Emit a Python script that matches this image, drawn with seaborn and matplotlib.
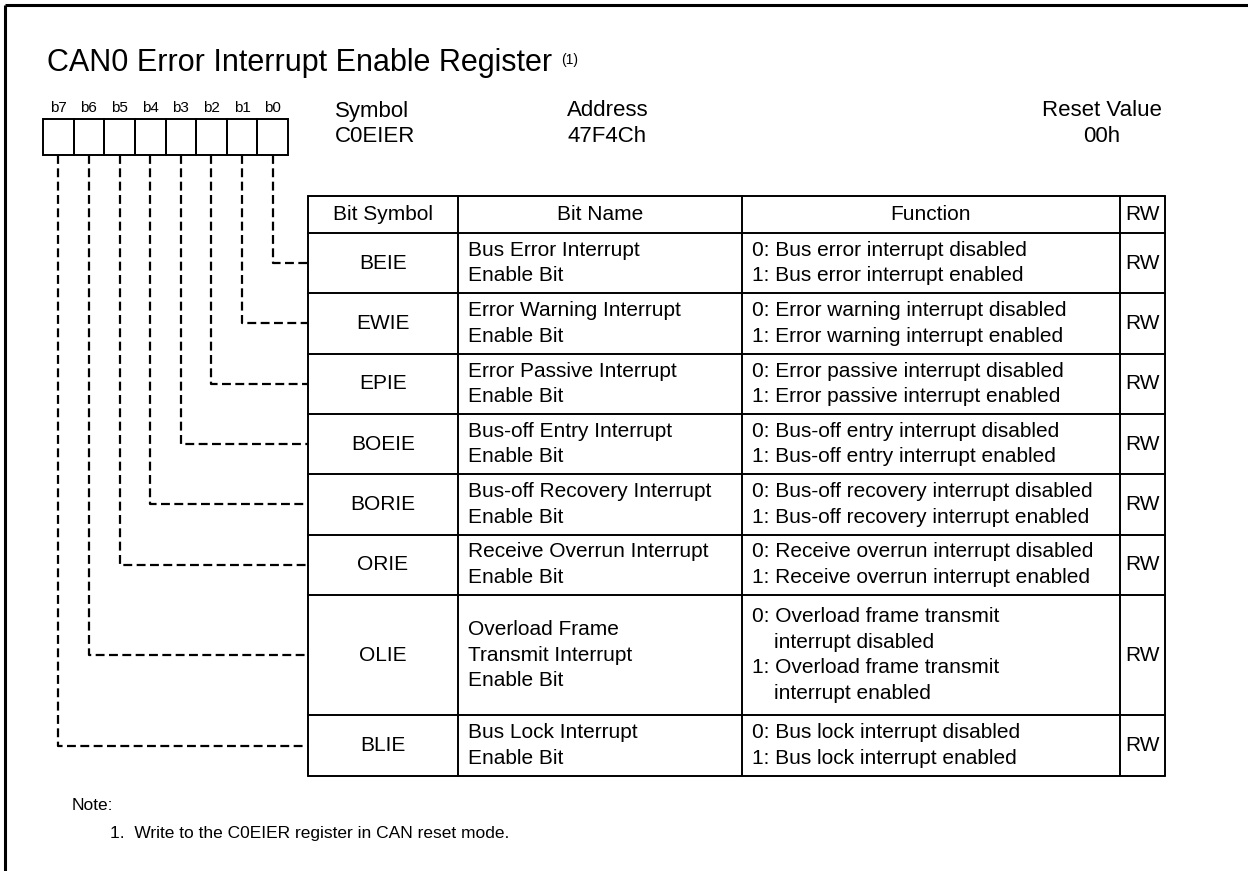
import matplotlib
matplotlib.use("Agg")
import matplotlib.pyplot as plt
import seaborn as sns

# register content
title = "CAN0 Error Interrupt Enable Register"
title_note = "(1)"
bit_labels = ["b7", "b6", "b5", "b4", "b3", "b2", "b1", "b0"]
header_cols = ["Bit Symbol", "Bit Name", "Function", "RW"]
reg_symbol = "C0EIER"
reg_address = "47F4Ch"
reg_reset = "00h"

bit_symbols = ["BEIE", "EWIE", "EPIE", "BOEIE", "BORIE", "ORIE", "OLIE", "BLIE"]
bit_names = [
    ["Bus Error Interrupt", "Enable Bit"],
    ["Error Warning Interrupt", "Enable Bit"],
    ["Error Passive Interrupt", "Enable Bit"],
    ["Bus-off Entry Interrupt", "Enable Bit"],
    ["Bus-off Recovery Interrupt", "Enable Bit"],
    ["Receive Overrun Interrupt", "Enable Bit"],
    ["Overload Frame", "Transmit Interrupt", "Enable Bit"],
    ["Bus Lock Interrupt", "Enable Bit"],
]
functions = [
    ["0: Bus error interrupt disabled", "1: Bus error interrupt enabled"],
    ["0: Error warning interrupt disabled", "1: Error warning interrupt enabled"],
    ["0: Error passive interrupt disabled", "1: Error passive interrupt enabled"],
    ["0: Bus-off entry interrupt disabled", "1: Bus-off entry interrupt enabled"],
    ["0: Bus-off recovery interrupt disabled", "1: Bus-off recovery interrupt enabled"],
    ["0: Receive overrun interrupt disabled", "1: Receive overrun interrupt enabled"],
    ["0: Overload frame transmit", "interrupt disabled",
     "1: Overload frame transmit", "interrupt enabled"],
    ["0: Bus lock interrupt disabled", "1: Bus lock interrupt enabled"],
]
rw_vals = ["RW"] * 8
# which bit each row connects to (b0 first)
row_bits = [0, 1, 2, 3, 4, 5, 6, 7]
notes = ["Note:", "1.  Write to the C0EIER register in CAN reset mode."]

sns.set_theme(style="white")
plt.rcParams["font.family"] = ["Liberation Sans", "DejaVu Sans"]
plt.rcParams["text.color"] = "black"

W, H = 1248, 871
fig = plt.figure(figsize=(W / 100, H / 100), dpi=100)
ax = fig.add_axes([0, 0, 1, 1])
ax.set_xlim(0, W)
ax.set_ylim(H, 0)
ax.axis("off")

FS = 15
LS = 25.5
lw_tab = 1.4
dash = (0, (4, 2))

# outer frame (top and left only)
ax.plot([5, W], [5, 5], color="black", lw=2.2, solid_capstyle="butt")
ax.plot([5, 5], [5, H], color="black", lw=2.2, solid_capstyle="butt")

# title
t = ax.text(47, 63, title, fontsize=22, ha="left", va="center", color="black")
fig.canvas.draw()
bb = t.get_window_extent().transformed(ax.transData.inverted())
ax.text(bb.x1 + 9, 60, title_note, fontsize=10, ha="left", va="center",
        color="black")

# bit boxes
bx0, bx1, by0, by1 = 43, 288, 119, 155
bw = (bx1 - bx0) / len(bit_labels)
for i, lab in enumerate(bit_labels):
    x = bx0 + i * bw
    ax.add_patch(plt.Rectangle((x, by0), bw, by1 - by0, fill=False,
                               edgecolor="black", lw=lw_tab))
    ax.text(x + bw / 2, 108, lab, fontsize=11, ha="center", va="center",
            color="black")

# register info
ax.text(335, 111, "Symbol", fontsize=16, ha="left", va="center", color="black")
ax.text(335, 137, reg_symbol, fontsize=16, ha="left", va="center", color="black")
ax.text(567, 111, "Address", fontsize=16, ha="left", va="center", color="black")
ax.text(567, 137, reg_address, fontsize=16, ha="left", va="center", color="black")
ax.text(1102, 111, "Reset Value", fontsize=16, ha="center", va="center",
        color="black")
ax.text(1102, 137, reg_reset, fontsize=16, ha="center", va="center",
        color="black")

# table geometry
cols = [308, 458, 742, 1120, 1165]
top, head_bot = 196, 233
unit = 60.3
heights = [unit * max(2, len(f)) / 2 for f in functions]
bounds = [head_bot]
for h in heights:
    bounds.append(bounds[-1] + h)

# lines
for x in cols:
    ax.plot([x, x], [top, bounds[-1]], color="black", lw=lw_tab)
for y in [top] + bounds:
    ax.plot([cols[0], cols[-1]], [y, y], color="black", lw=lw_tab)

# header
hy = (top + head_bot) / 2
for j, name in enumerate(header_cols):
    ax.text((cols[j] + cols[j + 1]) / 2, hy, name, fontsize=FS,
            ha="center", va="center", color="black")

# rows
for r in range(len(bit_symbols)):
    y0, y1 = bounds[r], bounds[r + 1]
    yc = (y0 + y1) / 2
    ax.text((cols[0] + cols[1]) / 2, yc, bit_symbols[r], fontsize=FS,
            ha="center", va="center", color="black")
    nm = bit_names[r]
    for k, line in enumerate(nm):
        ax.text(cols[1] + 10, yc + (k - (len(nm) - 1) / 2) * LS, line,
                fontsize=FS, ha="left", va="center", color="black")
    fn = functions[r]
    for k, line in enumerate(fn):
        indent = 0 if line[:2] in ("0:", "1:") else 22
        ax.text(cols[2] + 10 + indent, yc + (k - (len(fn) - 1) / 2) * LS,
                line, fontsize=FS, ha="left", va="center", color="black")
    ax.text((cols[3] + cols[4]) / 2, yc, rw_vals[r], fontsize=FS,
            ha="center", va="center", color="black")

    # dashed connector from bit box to row
    bit = row_bits[r]
    bx = bx0 + (len(bit_labels) - 1 - bit) * bw + bw / 2
    ax.plot([bx, bx, cols[0]], [by1, yc, yc], color="black", lw=1.6,
            linestyle=dash)

# notes
ax.text(72, 805, notes[0], fontsize=12.5, ha="left", va="center", color="black")
ax.text(110, 833, notes[1], fontsize=12.5, ha="left", va="center", color="black")

fig.savefig("out.png", dpi=100, facecolor="white")
